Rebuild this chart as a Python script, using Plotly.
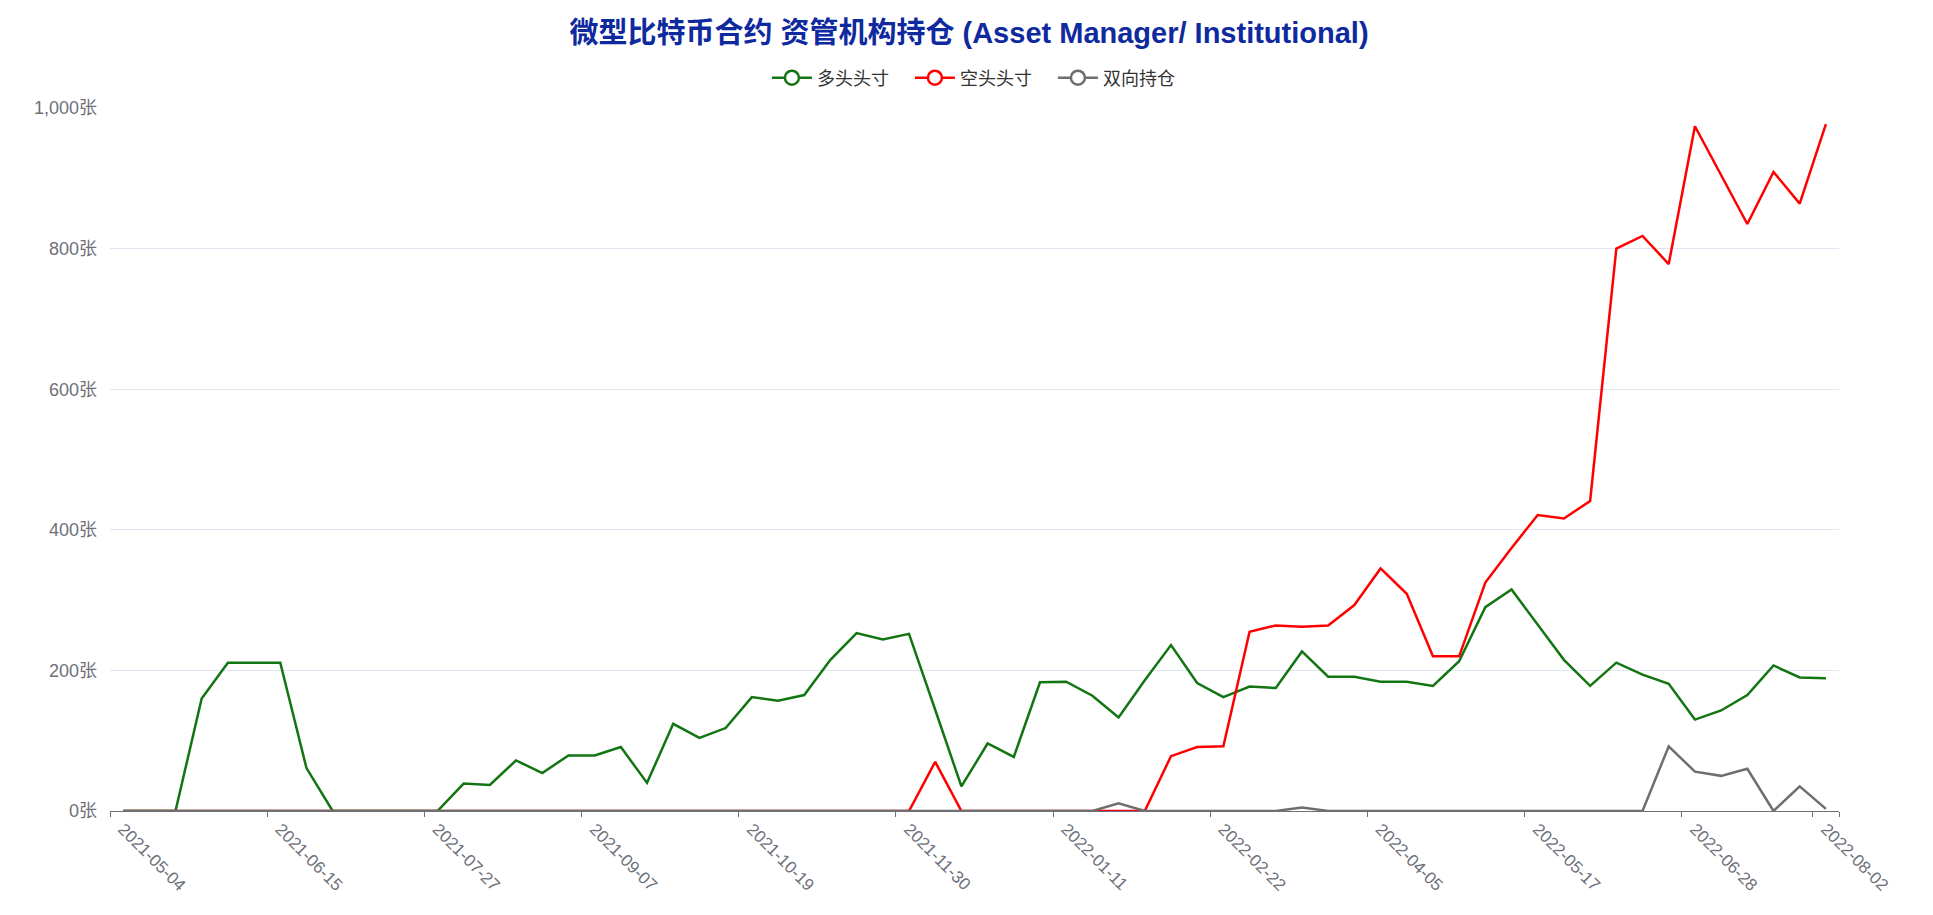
import plotly.graph_objects as go
import datetime as dt

# ---- data ----
start = dt.date(2021, 5, 4)
dates = [(start + dt.timedelta(days=7 * i)).isoformat() for i in range(66)]

long_pos = [0, 0, 0, 160, 211, 211, 211, 61, 0, 0,
            0, 0, 0, 39, 37, 72, 54, 79, 79, 91,
            40, 124, 104, 118, 162, 157, 165, 215, 253, 244,
            252, 144, 35, 96, 77, 183, 184, 164, 133, 186,
            236, 182, 162, 177, 175, 227, 191, 191, 184, 184,
            178, 213, 290, 315, 265, 215, 178, 211, 194, 181,
            130, 143, 165, 207, 190, 189]

short_pos = [0, 0, 0, 0, 0, 0, 0, 0, 0, 0,
             0, 0, 0, 0, 0, 0, 0, 0, 0, 0,
             0, 0, 0, 0, 0, 0, 0, 0, 0, 0,
             0, 70, 0, 0, 0, 0, 0, 0, 0, 0,
             78, 91, 92, 255, 264, 262, 264, 293, 345, 309,
             220, 220, 325, 374, 421, 416, 441, 800, 818, 778,
             974, 904, 835, 909, 864, 977]

spread_pos = [0, 0, 0, 0, 0, 0, 0, 0, 0, 0,
              0, 0, 0, 0, 0, 0, 0, 0, 0, 0,
              0, 0, 0, 0, 0, 0, 0, 0, 0, 0,
              0, 0, 0, 0, 0, 0, 0, 0, 11, 0,
              0, 0, 0, 0, 0, 5, 0, 0, 0, 0,
              0, 0, 0, 0, 0, 0, 0, 0, 0, 92,
              56, 50, 60, 0, 35, 3]

series_names = ["多头头寸", "空头头寸", "双向持仓"]
series_colors = ["#127512", "#ff0000", "#6e6e6e"]
y_ticks = [0, 200, 400, 600, 800, 1000]
y_unit = "张"

title_text = "微型比特币合约 资管机构持仓 (Asset Manager/ Institutional)"

# ---- figure ----
n = len(dates)
xs = list(range(n))
label_idx = list(range(0, n, 6))
if label_idx[-1] != n - 1:
    label_idx.append(n - 1)
boundary_ticks = [i - 0.5 for i in label_idx] + [n - 0.5]

FONT = "Liberation Sans, Arial, Noto Sans CJK SC, sans-serif"

fig = go.Figure()
for name, vals, col in zip(series_names, [long_pos, short_pos, spread_pos], series_colors):
    fig.add_trace(go.Scatter(x=xs, y=vals, mode="lines", name=name,
                             line=dict(color=col, width=2.5),
                             showlegend=False, hoverinfo="x+y"))
# legend entries (line + empty circle)
for name, col in zip(series_names, series_colors):
    fig.add_trace(go.Scatter(x=[None], y=[None], mode="lines+markers", name=name,
                             line=dict(color=col, width=2.5),
                             marker=dict(symbol="circle", size=14, color="white",
                                         line=dict(color=col, width=2.5)),
                             showlegend=True))
# dummy trace for label axis
fig.add_trace(go.Scatter(x=[None], y=[None], xaxis="x2", showlegend=False))

fig.update_layout(
    width=1933, height=915,
    margin=dict(l=110, r=94, t=108, b=104, autoexpand=False),
    paper_bgcolor="white", plot_bgcolor="white",
    font=dict(family=FONT, size=17, color="#6e7079"),
    title=dict(text="<b>" + title_text + "</b>", x=969 / 1933, xref="container",
               xanchor="center", y=1 - 33 / 915, yref="container", yanchor="middle",
               font=dict(family=FONT, size=29, color="#0e2a9e")),
    legend=dict(orientation="h", x=0.504, xanchor="center",
                y=1 + (108 - 78) / 703, yanchor="middle",
                font=dict(size=18, color="#333333"),
                entrywidth=88, entrywidthmode="pixels", itemwidth=40,
                bgcolor="rgba(0,0,0,0)"),
    xaxis=dict(range=[-0.5, n - 0.5], showgrid=False, zeroline=False,
               showline=True, linecolor="#6e7079", linewidth=1,
               tickmode="array", tickvals=boundary_ticks, ticks="outside",
               ticklen=5, tickcolor="#6e7079", showticklabels=False,
               fixedrange=True),
    xaxis2=dict(overlaying="x", side="bottom", range=[-0.5, n - 0.5],
                showgrid=False, zeroline=False, showline=False,
                tickmode="array", tickvals=label_idx,
                ticktext=[dates[i] for i in label_idx],
                ticks="", tickangle=45, tickfont=dict(size=17, color="#6e7079"),
                ticklabelstandoff=4, anchor="y"),
    yaxis=dict(range=[0, 1000], tickmode="array", tickvals=y_ticks,
               ticktext=[f"{v:,}{y_unit}" for v in y_ticks],
               showgrid=True, gridcolor="#e0e6f1",
               gridwidth=1, zeroline=False, showline=False, ticks="",
               ticklabelstandoff=12,
               tickfont=dict(size=18, color="#6e7079")),
    hovermode="x",
)

fig.write_html("out.html")
